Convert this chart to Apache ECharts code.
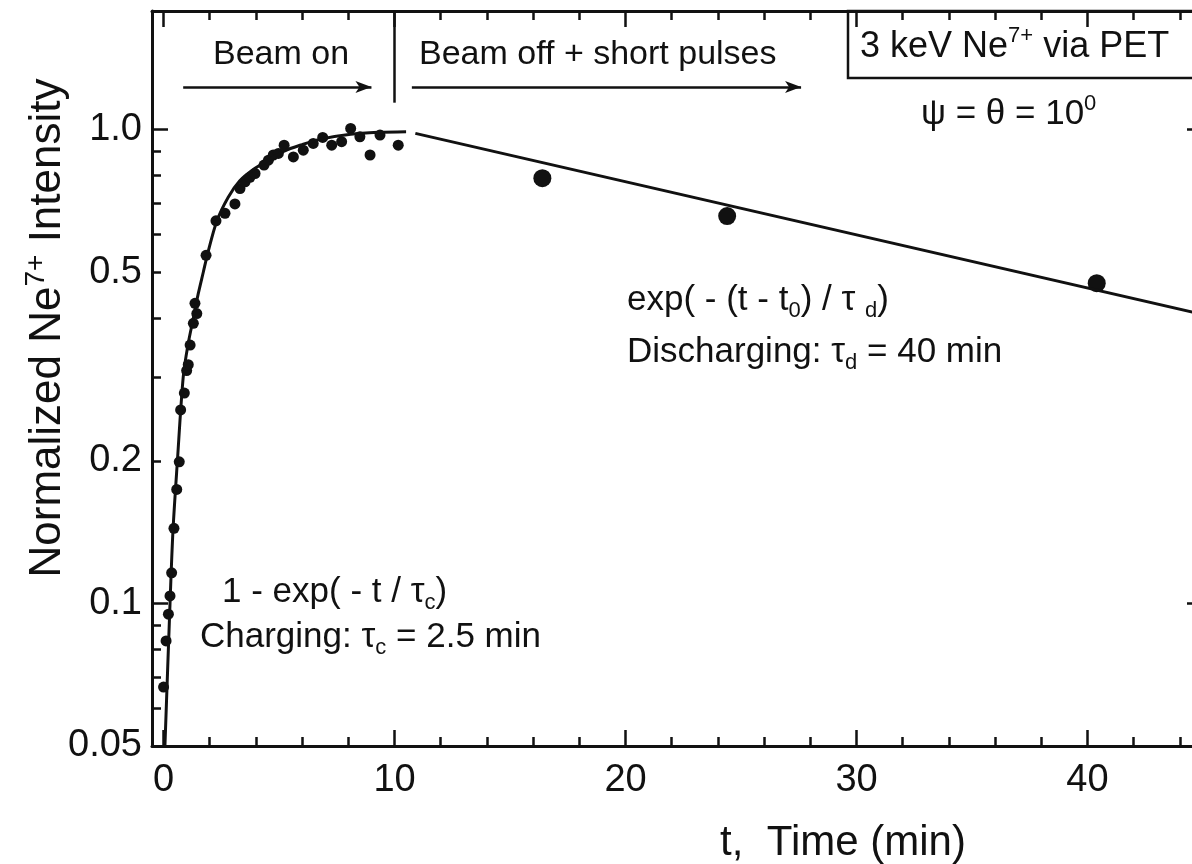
<!DOCTYPE html>
<html>
<head>
<meta charset="utf-8">
<script src="https://cdn.jsdelivr.net/npm/echarts@6/dist/echarts.min.js"></script>
<style>
  html, body { margin: 0; padding: 0; background: #fff; }
  #main { width: 1192px; height: 864px; }
</style>
</head>
<body>
<div id="main"></div>
<script>
// fitted curve, charging part
const chargeT = [0.06, 0.28, 0.41, 0.6, 0.85, 1.05, 1.29, 1.5, 1.72, 1.9, 2.3, 2.8, 3.3, 3.9, 4.5, 5.2, 6.0, 6.8, 8.1, 9.3, 10.5];
const chargeV = [0.05, 0.1, 0.143, 0.2, 0.3, 0.35, 0.4, 0.45, 0.5, 0.545, 0.64, 0.72, 0.78, 0.825, 0.86, 0.9, 0.93, 0.955, 0.978, 0.987, 0.99];

// fitted curve, discharging part
const dischargeT = [10.9, 45];
const dischargeV = [0.982, 0.407];

// measured points while beam on
const beamOnT = [0.0, 0.11, 0.21, 0.28, 0.35, 0.45, 0.57, 0.68, 0.74, 0.9, 1.0, 1.07, 1.15, 1.29, 1.36, 1.44, 1.84, 2.27, 2.66, 3.09, 3.31, 3.53, 3.74, 3.96, 4.35, 4.54, 4.75, 4.97, 5.22, 5.62, 6.05, 6.48, 6.89, 7.28, 7.71, 8.1, 8.5, 8.94, 9.37, 10.16];
const beamOnV = [0.0666, 0.0833, 0.0949, 0.1037, 0.116, 0.144, 0.174, 0.199, 0.256, 0.278, 0.31, 0.319, 0.351, 0.39, 0.43, 0.409, 0.543, 0.642, 0.666, 0.697, 0.751, 0.776, 0.793, 0.808, 0.842, 0.862, 0.884, 0.891, 0.927, 0.876, 0.905, 0.935, 0.963, 0.927, 0.943, 1.006, 0.966, 0.884, 0.974, 0.927];

// measured points with beam off + short pulses
const pulseT = [16.4, 24.4, 40.4];
const pulseV = [0.79, 0.657, 0.474];

// ticks
const xMajor = [0, 10, 20, 30, 40];
const xMinor = [2, 4, 6, 8, 12, 14, 16, 18, 22, 24, 26, 28, 32, 34, 36, 38, 42, 44];
const yLabelValues = [0.05, 0.1, 0.2, 0.5, 1];
const yLabelTexts = ['0.05', '0.1', '0.2', '0.5', '1.0'];
const yDecadeTicks = [0.1, 1];
const yMinor = [0.06, 0.07, 0.08, 0.09, 0.2, 0.3, 0.4, 0.5, 0.6, 0.7, 0.8, 0.9];

const FONT = '"Liberation Sans", Arial, Helvetica, sans-serif';
const INK = '#111';

const zip = (a, b) => a.map((v, i) => [v, b[i]]);

function yLabel(v) {
  let best = 0;
  yLabelValues.forEach((t, i) => {
    if (Math.abs(Math.log(t) - Math.log(v)) < Math.abs(Math.log(yLabelValues[best]) - Math.log(v))) best = i;
  });
  return yLabelTexts[best];
}

const chart = echarts.init(document.getElementById('main'), null, { renderer: 'canvas' });

const gridBox = { left: 152, top: 11, width: 1051, height: 735, containLabel: false, outerBoundsMode: 'none' };

function xAx(gridIndex, position, ticks, len, withLine, withLabel) {
  return {
    type: 'value', gridIndex, position, min: -0.5, max: 45,
    axisLine: { show: withLine, onZero: false, lineStyle: { color: INK, width: 3 } },
    axisTick: { show: true, inside: true, length: len, customValues: ticks, lineStyle: { color: INK, width: 2.5 } },
    axisLabel: withLabel
      ? { show: true, customValues: xMajor, fontSize: 38, color: INK, fontFamily: FONT, margin: 16 }
      : { show: false },
    splitLine: { show: false }
  };
}

function yAx(gridIndex, position, ticks, len, withLine, withLabel) {
  return {
    type: 'log', logBase: 10, gridIndex, position, min: 0.05, max: 1.78,
    axisLine: { show: withLine, onZero: false, lineStyle: { color: INK, width: 3 } },
    axisTick: { show: true, inside: true, length: len, customValues: ticks, lineStyle: { color: INK, width: 2.5 } },
    axisLabel: withLabel
      ? { show: true, customValues: yLabelValues, formatter: yLabel, fontSize: 38, color: INK, fontFamily: FONT, margin: 10 }
      : { show: false },
    splitLine: { show: false }
  };
}

const txt = (size) => ({ fontSize: size, fontFamily: FONT, color: INK, lineHeight: size + 8 });
const sub = (size) => ({ fontSize: size, fontFamily: FONT, color: INK, verticalAlign: 'bottom', lineHeight: size });
const sup = (size) => ({ fontSize: size, fontFamily: FONT, color: INK, verticalAlign: 'top', lineHeight: size });

function label(x, y, text, size, align) {
  return {
    type: 'text', x, y, silent: true,
    style: {
      text, fill: INK, align: align || 'left', verticalAlign: 'middle',
      rich: { a: txt(size), s: sub(Math.round(size * 0.62)), p: sup(Math.round(size * 0.62)) }
    }
  };
}

const option = {
  animation: false,
  backgroundColor: '#fff',
  grid: [Object.assign({}, gridBox), Object.assign({}, gridBox)],
  xAxis: [
    xAx(0, 'bottom', xMajor, 16, true, true),
    xAx(0, 'top', xMajor, 16, true, false),
    xAx(1, 'bottom', xMinor, 9, false, false),
    xAx(1, 'top', xMinor, 9, false, false)
  ],
  yAxis: [
    yAx(0, 'left', yDecadeTicks, 16, true, true),
    yAx(0, 'right', yDecadeTicks, 16, true, false),
    yAx(1, 'left', yMinor, 9, false, false),
    yAx(1, 'right', yMinor, 9, false, false)
  ],
  series: [
    {
      name: 'charging fit', type: 'line', xAxisIndex: 0, yAxisIndex: 0,
      data: zip(chargeT, chargeV), showSymbol: false, smooth: 0.3,
      lineStyle: { color: INK, width: 3 }
    },
    {
      name: 'discharging fit', type: 'line', xAxisIndex: 0, yAxisIndex: 0,
      data: zip(dischargeT, dischargeV), showSymbol: false,
      lineStyle: { color: INK, width: 3 },
      markLine: {
        silent: true, animation: false,
        symbol: ['none', 'none'],
        label: { show: false },
        lineStyle: { color: INK, width: 2.5, type: 'solid' },
        data: [
          [{ coord: [10, 1.78] }, { coord: [10, 1.14] }],
          [{ coord: [0.85, 1.23] }, { coord: [9.0, 1.23], symbol: 'arrow', symbolSize: [9, 16] }],
          [{ coord: [10.75, 1.23] }, { coord: [27.6, 1.23], symbol: 'arrow', symbolSize: [9, 16] }]
        ]
      }
    },
    {
      name: 'beam on', type: 'scatter', xAxisIndex: 0, yAxisIndex: 0,
      data: zip(beamOnT, beamOnV), symbol: 'circle', symbolSize: 11,
      itemStyle: { color: INK, opacity: 1 }
    },
    {
      name: 'beam off', type: 'scatter', xAxisIndex: 0, yAxisIndex: 0,
      data: zip(pulseT, pulseV), symbol: 'circle', symbolSize: 18,
      itemStyle: { color: INK, opacity: 1 }
    }
  ],
  graphic: [
    label(213, 55, '{a|Beam on}', 34),
    label(419, 55, '{a|Beam off + short pulses}', 34),
    {
      type: 'rect', silent: true,
      shape: { x: 848, y: 11, width: 380, height: 67 },
      style: { fill: 'none', stroke: INK, lineWidth: 2.5 }
    },
    label(860, 47, '{a|3 keV Ne}{p|7+}{a| via PET}', 36),
    label(921, 114, '{a|ψ = θ = 10}{p|0}', 35),
    label(627, 300, '{a|exp( - (t - t}{s|0}{a|) / τ }{s|d}{a|)}', 35),
    label(627, 352, '{a|Discharging: τ}{s|d}{a| = 40 min}', 35),
    label(222, 592, '{a|1 - exp( - t / τ}{s|c}{a|)}', 35),
    label(200, 637, '{a|Charging: τ}{s|c}{a| = 2.5 min}', 35),
    label(843, 843, '{a|t,  Time (min)}', 42, 'center'),
    {
      type: 'text', x: 48, y: 328, rotation: Math.PI / 2, silent: true,
      style: {
        text: '{a|Normalized Ne}{p|7+}{a| Intensity}', fill: INK,
        align: 'center', verticalAlign: 'middle',
        rich: { a: txt(44), p: sup(28) }
      }
    }
  ]
};

chart.setOption(option);
</script>
</body>
</html>
